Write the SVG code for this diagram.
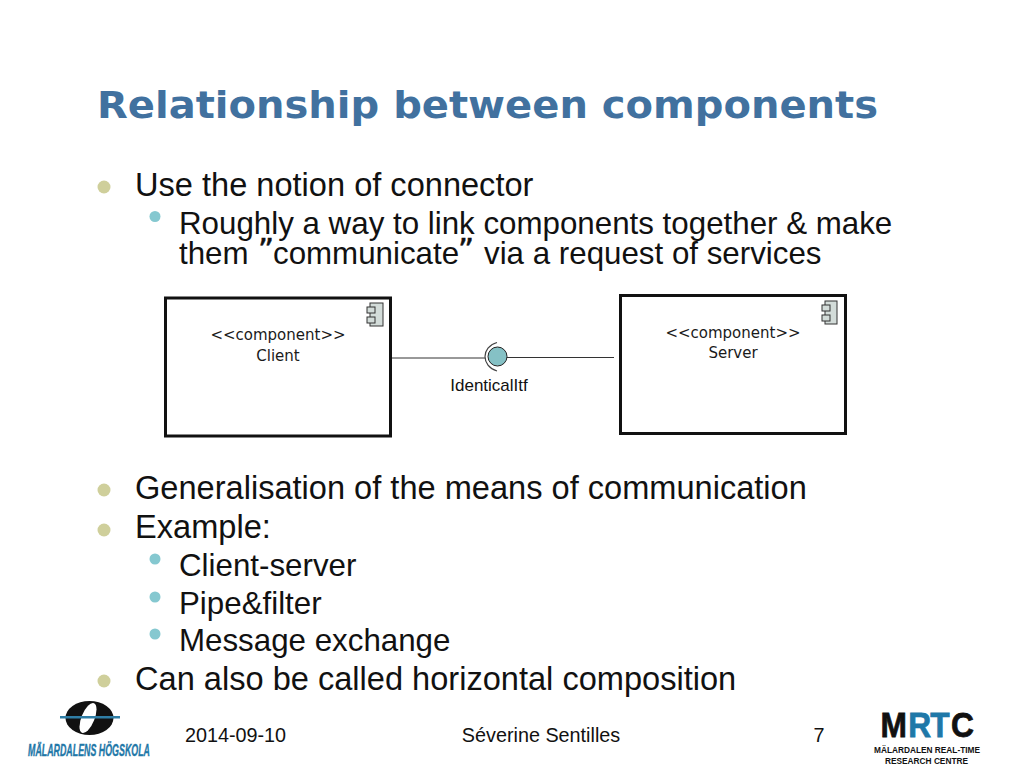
<svg xmlns="http://www.w3.org/2000/svg" width="1024" height="768" viewBox="0 0 1024 768">
<style>
text{font-family:"Liberation Sans",Arial,sans-serif;fill:#111}
.title{font-family:"DejaVu Sans",Verdana,sans-serif;font-weight:700;font-size:38px;fill:#41719f}
.l1{font-size:32.600px}
.l2{font-size:31.300px}
.q{font-family:"DejaVu Sans",sans-serif;font-size:31px;stroke:#111;stroke-width:.6}
.foot{font-size:19.800px}
.u{font-family:"DejaVu Sans",Verdana,sans-serif;font-size:15px;text-anchor:middle;fill:#1a1a1a}
.b1{fill:#cfcf9b}
.b2{fill:#85c8d0}
.box{fill:#fff;stroke:#111;stroke-width:3}
.ic{fill:#d3dcd9;stroke:#333;stroke-width:1}
.line{fill:none;stroke:#333;stroke-width:1}
.mrtc{font-size:36px;font-weight:700}
.mrtcs{font-size:9.500px;font-weight:700;text-anchor:middle}
</style>
<rect width="1024" height="768" fill="#fff"/>
<text class="title" x="97" y="118" textLength="781" lengthAdjust="spacingAndGlyphs">Relationship between components</text>
<g id="bullets">
<circle class="b1" cx="104" cy="187" r="6.500"/><circle class="b2" cx="155" cy="216.500" r="5.500"/>
<circle class="b1" cx="104" cy="490" r="6.500"/><circle class="b1" cx="104" cy="530" r="6.500"/>
<circle class="b2" cx="155" cy="559" r="5.500"/><circle class="b2" cx="155" cy="597" r="5.500"/><circle class="b2" cx="155" cy="634" r="5.500"/>
<circle class="b1" cx="104" cy="681" r="6.500"/>
</g>
<g id="body">
<text class="l1" x="135" y="196">Use the notion of connector</text>
<text class="l2" x="179" y="234">Roughly a way to link components together &amp; make</text>
<text class="l2" x="179" y="264">them <tspan class="q" x="258" dy="-4">”</tspan><tspan x="273" dy="4">communicate</tspan><tspan class="q" x="458" dy="-4">”</tspan><tspan x="484" dy="4">via a request of services</tspan></text>
<text class="l1" x="135" y="499">Generalisation of the means of communication</text>
<text class="l1" x="135" y="538">Example:</text>
<text class="l2" x="179" y="576">Client-server</text>
<text class="l2" x="179" y="614">Pipe&amp;filter</text>
<text class="l2" x="179" y="651">Message exchange</text>
<text class="l1" x="135" y="690">Can also be called horizontal composition</text>
</g>
<g id="connectors">
<line class="line" x1="392" y1="358" x2="485" y2="358"/>
<line class="line" x1="507" y1="357.500" x2="614" y2="357.500"/>
</g>
<g id="client">
<rect class="box" x="165.500" y="298" width="225" height="138"/>
<rect class="ic" x="370" y="303" width="13" height="23"/><rect class="ic" x="367" y="307" width="8" height="6"/><rect class="ic" x="367" y="317" width="8" height="6"/>
<text class="u" x="278" y="339.500">&lt;&lt;component&gt;&gt;</text>
<text class="u" x="278" y="360.500">Client</text>
</g>
<g id="server">
<rect class="box" x="620.500" y="295.500" width="225" height="138"/>
<rect class="ic" x="825" y="301" width="12" height="23"/><rect class="ic" x="822" y="305" width="8" height="6"/><rect class="ic" x="822" y="315" width="8" height="6"/>
<text class="u" x="733" y="337.500">&lt;&lt;component&gt;&gt;</text>
<text class="u" x="733" y="357.500">Server</text>
</g>
<g id="interface">
<path fill="none" stroke="#444" stroke-width="1.200" d="M497 342.500C481 347 481 366 497 371"/>
<ellipse cx="497.500" cy="356.500" rx="9.500" ry="9.500" fill="#85c1c5" stroke="#222" stroke-width="1"/>
<text x="489" y="391" font-size="17" text-anchor="middle">IdenticalItf</text>
</g>
<g id="footer">
<text class="foot" x="235.500" y="742" text-anchor="middle">2014-09-10</text>
<text class="foot" x="541" y="742" text-anchor="middle">Séverine Sentilles</text>
<text class="foot" x="819" y="742" text-anchor="middle">7</text>
</g>
<g id="logo-mdh">
<ellipse cx="89.500" cy="718" rx="24" ry="17" fill="#111"/>
<ellipse cx="88" cy="718" rx="6.500" ry="16" transform="rotate(22 88 718)" fill="#fff"/>
<rect x="60" y="716" width="60" height="2.500" fill="#2f7ea6"/>
<text x="89" y="756" font-size="17" font-weight="700" font-style="italic" text-anchor="middle" style="fill:#1f78a8;stroke:#1f78a8;stroke-width:.4" textLength="122" lengthAdjust="spacingAndGlyphs">MÄLARDALENS HÖGSKOLA</text>
</g>
<g id="logo-mrtc">
<text class="mrtc" transform="scale(.88 1)" y="737" style="stroke:#111;stroke-width:.8"><tspan x="1000.500">M</tspan><tspan x="1032" style="fill:#1f78a8;stroke:#1f78a8">R</tspan><tspan x="1057" style="fill:#1f78a8;stroke:#1f78a8">T</tspan><tspan x="1080.700">C</tspan></text>
<text class="mrtcs" x="927" y="753" textLength="106" lengthAdjust="spacingAndGlyphs">MÄLARDALEN REAL-TIME</text>
<text class="mrtcs" x="926.500" y="764" textLength="83" lengthAdjust="spacingAndGlyphs">RESEARCH CENTRE</text>
</g>
</svg>
